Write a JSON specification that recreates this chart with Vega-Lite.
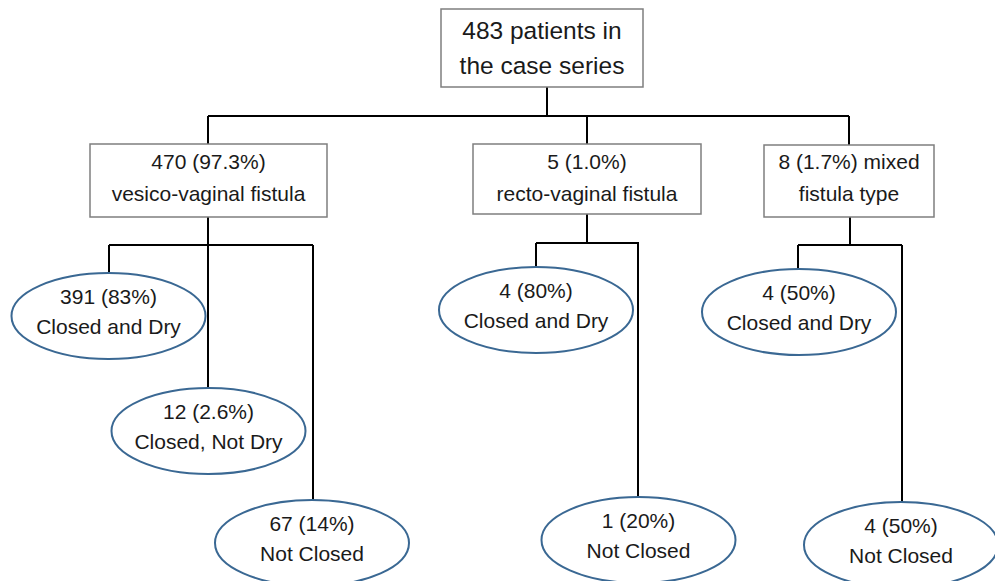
{
  "$schema": "https://vega.github.io/schema/vega-lite/v6.json",
  "width": 995,
  "height": 581,
  "autosize": {"type": "none"},
  "padding": 0,
  "background": "white",
  "config": {"view": {"stroke": null}},
  "datasets": {
    "boxes": [
      {"x1": 441, "x2": 643, "y1": 9, "y2": 87, "cx": 542, "cy": 49, "label": "483 patients in\nthe case series", "level": 0},
      {"x1": 90, "x2": 327, "y1": 144, "y2": 217, "cx": 208.5, "cy": 179, "label": "470 (97.3%)\nvesico-vaginal fistula", "level": 1},
      {"x1": 473, "x2": 701, "y1": 144, "y2": 214, "cx": 587, "cy": 179, "label": "5 (1.0%)\nrecto-vaginal fistula", "level": 1},
      {"x1": 764, "x2": 934, "y1": 145, "y2": 217, "cx": 849, "cy": 179, "label": "8 (1.7%) mixed\nfistula type", "level": 1}
    ],
    "ellipses": [
      {"cx": 108.5, "cy": 316, "label": "391 (83%)\nClosed and Dry"},
      {"cx": 208.5, "cy": 431, "label": "12 (2.6%)\nClosed, Not Dry"},
      {"cx": 312, "cy": 543, "label": "67 (14%)\nNot Closed"},
      {"cx": 536, "cy": 310, "label": "4 (80%)\nClosed and Dry"},
      {"cx": 638.5, "cy": 540, "label": "1 (20%)\nNot Closed"},
      {"cx": 799, "cy": 312, "label": "4 (50%)\nClosed and Dry"},
      {"cx": 901, "cy": 545, "label": "4 (50%)\nNot Closed"}
    ],
    "links": [
      {"x1": 547, "x2": 547, "y1": 87, "y2": 116},
      {"x1": 208, "x2": 849, "y1": 116, "y2": 116},
      {"x1": 208, "x2": 208, "y1": 116, "y2": 144},
      {"x1": 587, "x2": 587, "y1": 116, "y2": 144},
      {"x1": 849, "x2": 849, "y1": 116, "y2": 145},
      {"x1": 208, "x2": 208, "y1": 217, "y2": 388},
      {"x1": 109, "x2": 313, "y1": 245, "y2": 245},
      {"x1": 109, "x2": 109, "y1": 245, "y2": 275},
      {"x1": 313, "x2": 313, "y1": 245, "y2": 500},
      {"x1": 587, "x2": 587, "y1": 214, "y2": 243},
      {"x1": 536, "x2": 639, "y1": 243, "y2": 243},
      {"x1": 536, "x2": 536, "y1": 243, "y2": 267},
      {"x1": 638, "x2": 638, "y1": 243, "y2": 497},
      {"x1": 850, "x2": 850, "y1": 217, "y2": 245},
      {"x1": 798, "x2": 902, "y1": 245, "y2": 245},
      {"x1": 798, "x2": 798, "y1": 245, "y2": 269},
      {"x1": 902, "x2": 902, "y1": 245, "y2": 502}
    ]
  },
  "layer": [
    {
      "data": {"name": "links"},
      "mark": {"type": "rule", "color": "#000000", "strokeWidth": 2},
      "encoding": {
        "x": {"field": "x1", "type": "quantitative", "scale": {"domain": [0, 995], "nice": false, "zero": false}, "axis": null},
        "x2": {"field": "x2"},
        "y": {"field": "y1", "type": "quantitative", "scale": {"domain": [0, 581], "nice": false, "zero": false, "reverse": true}, "axis": null},
        "y2": {"field": "y2"}
      }
    },
    {
      "data": {"name": "boxes"},
      "mark": {"type": "rect", "fill": "white", "stroke": "#7f7f7f", "strokeWidth": 1.5},
      "encoding": {
        "x": {"field": "x1", "type": "quantitative", "scale": {"domain": [0, 995], "nice": false, "zero": false}, "axis": null},
        "x2": {"field": "x2"},
        "y": {"field": "y1", "type": "quantitative", "scale": {"domain": [0, 581], "nice": false, "zero": false, "reverse": true}, "axis": null},
        "y2": {"field": "y2"}
      }
    },
    {
      "data": {"name": "ellipses"},
      "mark": {"type": "point", "shape": "M-1,0C-1,-0.2447,-0.5523,-0.443,0,-0.443C0.5523,-0.443,1,-0.2447,1,0C1,0.2447,0.5523,0.443,0,0.443C-0.5523,0.443,-1,0.2447,-1,0Z", "size": 37636, "filled": true, "fill": "white", "fillOpacity": 1, "opacity": 1, "stroke": "#3a6893", "strokeWidth": 2},
      "encoding": {
        "x": {"field": "cx", "type": "quantitative", "scale": {"domain": [0, 995], "nice": false, "zero": false}, "axis": null},
        "y": {"field": "cy", "type": "quantitative", "scale": {"domain": [0, 581], "nice": false, "zero": false, "reverse": true}, "axis": null}
      }
    },
    {
      "data": {"name": "boxes"},
      "transform": [{"filter": "datum.level === 0"}],
      "mark": {"type": "text", "font": "Liberation Sans", "fontSize": 24.5, "lineBreak": "\n", "lineHeight": 35, "dy": -17.5, "align": "center", "baseline": "middle", "color": "#1a1a1a"},
      "encoding": {
        "x": {"field": "cx", "type": "quantitative", "scale": {"domain": [0, 995], "nice": false, "zero": false}, "axis": null},
        "y": {"field": "cy", "type": "quantitative", "scale": {"domain": [0, 581], "nice": false, "zero": false, "reverse": true}, "axis": null},
        "text": {"field": "label"}
      }
    },
    {
      "data": {"name": "boxes"},
      "transform": [{"filter": "datum.level === 1"}],
      "mark": {"type": "text", "font": "Liberation Sans", "fontSize": 21, "lineBreak": "\n", "lineHeight": 32, "dy": -16, "align": "center", "baseline": "middle", "color": "#1a1a1a"},
      "encoding": {
        "x": {"field": "cx", "type": "quantitative", "scale": {"domain": [0, 995], "nice": false, "zero": false}, "axis": null},
        "y": {"field": "cy", "type": "quantitative", "scale": {"domain": [0, 581], "nice": false, "zero": false, "reverse": true}, "axis": null},
        "text": {"field": "label"}
      }
    },
    {
      "data": {"name": "ellipses"},
      "mark": {"type": "text", "font": "Liberation Sans", "fontSize": 21, "lineBreak": "\n", "lineHeight": 30, "dy": -18, "align": "center", "baseline": "middle", "color": "#1a1a1a"},
      "encoding": {
        "x": {"field": "cx", "type": "quantitative", "scale": {"domain": [0, 995], "nice": false, "zero": false}, "axis": null},
        "y": {"field": "cy", "type": "quantitative", "scale": {"domain": [0, 581], "nice": false, "zero": false, "reverse": true}, "axis": null},
        "text": {"field": "label"}
      }
    }
  ]
}
